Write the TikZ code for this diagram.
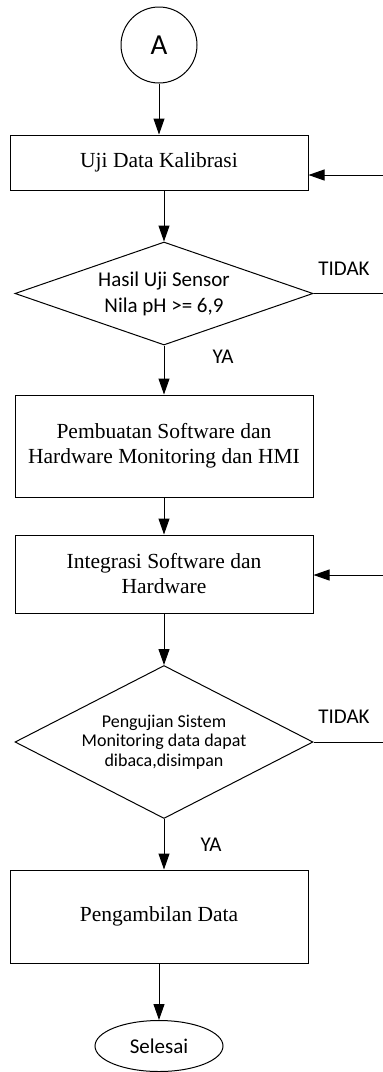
\documentclass[tikz,border=0pt]{standalone}
\usepackage{fontspec}
\setmainfont{Liberation Serif}
\newfontfamily\labelfont{Carlito}
\usetikzlibrary{shapes.geometric,arrows.meta}

\tikzset{
  flowline/.style={line width=1pt, draw=black},
  arr/.style={flowline, -{Triangle[length=16pt,width=11pt]}},
  procbox/.style={draw=black, line width=1pt, rectangle, inner sep=0pt,
    minimum width=298pt, align=center, font=\fontsize{21.5}{25}\selectfont},
  decision/.style={draw=black, line width=1pt, diamond, inner sep=0pt,
    minimum width=298pt, align=center, labelfontstyle},
  labelfontstyle/.style={font=\labelfont\fontsize{21}{26}\selectfont},
  smalllabel/.style={font=\labelfont\fontsize{18}{19.5}\selectfont},
  branch/.style={inner sep=0pt, labelfontstyle},
}

\begin{document}
\begin{tikzpicture}[x=1pt, y=-1pt]
  \useasboundingbox (0,0) rectangle (383,1072);

  % connector and terminator
  \node[draw, circle, line width=1pt, minimum size=76pt, inner sep=0pt,
        font=\labelfont\fontsize{29}{29}\selectfont] (A) at (159,45) {A};
  \node[draw, ellipse, line width=1pt, minimum width=128pt, minimum height=51pt,
        inner sep=0pt, labelfontstyle] (end) at (159,1046) {Selesai};

  % process steps
  \node[procbox, minimum height=55pt] (b1) at (159,162.5) {Uji Data Kalibrasi};
  \node[procbox, minimum height=102pt] (b2) at (164,446)
    {Pembuatan Software dan\\Hardware Monitoring dan HMI};
  \node[procbox, minimum height=78pt] (b3) at (164,574)
    {Integrasi Software dan\\Hardware};
  \node[procbox, minimum height=93pt] (b4) at (159,916.5) {Pengambilan Data};

  % decisions
  \node[decision, minimum height=103pt, aspect=2.9] (d1) at (164,293.5)
    {Hasil Uji Sensor\\Nila pH >= 6,9};
  \node[decision, minimum height=153pt, aspect=1.95, smalllabel] (d2) at (164,742)
    {Pengujian Sistem\\Monitoring data dapat\\dibaca,disimpan};

  % branch labels
  \node[branch] (t1) at (344,269) {TIDAK};
  \node[branch] (y1) at (223,357) {YA};
  \node[branch] (t2) at (344,717) {TIDAK};
  \node[branch] (y2) at (211,845) {YA};

  % loose ends of the return loops on the right
  \coordinate (r1) at (383,175);
  \coordinate (r2) at (383,293.5);
  \coordinate (r3) at (383,575);
  \coordinate (r4) at (383,742);

  % main flow
  \draw[arr] (A) -- (b1);
  \draw[arr] (b1.south -| d1.north) -- (d1.north);
  \draw[arr] (d1.south) -- (b2.north);
  \draw[arr] (b2.south) -- (b3.north);
  \draw[arr] (b3.south) -- (d2.north);
  \draw[arr] (d2.south) -- (d2.south |- b4.north);
  \draw[arr] (b4.south) -- (end.north);

  % return loops
  \draw[flowline] (d1.east) -- (r2);
  \draw[arr] (r1) -- (r1 -| b1.east);
  \draw[flowline] (d2.east) -- (r4);
  \draw[arr] (r3) -- (r3 -| b3.east);
\end{tikzpicture}
\end{document}
